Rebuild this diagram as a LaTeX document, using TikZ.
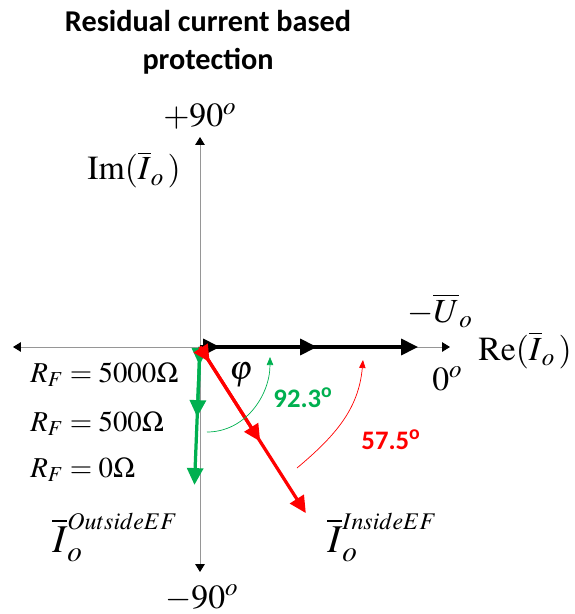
\documentclass[tikz,border=0pt]{standalone}
\usepackage[no-math]{fontspec}
\usepackage{mathptmx}
\newfontfamily\titlefont{Carlito}
\usetikzlibrary{arrows.meta}
\definecolor{vgreen}{RGB}{0,176,80}
\definecolor{vred}{RGB}{255,0,0}
\definecolor{axgray}{RGB}{150,150,150}

\begin{document}
\begin{tikzpicture}[
    >={Triangle[length=4.2mm,width=4mm]},
    axtip/.tip={Triangle[length=2mm,width=2.4mm,color=black]},
    axis/.style={draw=axgray, line width=0.7pt, axtip-axtip},
    vec/.style={line width=2.3pt, ->},
    ang/.style={line width=0.5pt, -{Triangle[length=2mm,width=1.6mm]}},
    big/.style={font=\fontsize{24}{28}\selectfont, inner sep=0pt},
    lab/.style={font=\fontsize{20.5}{24}\selectfont, inner sep=0pt},
    deg/.style={font=\titlefont\bfseries\fontsize{19}{22}\selectfont, inner sep=0pt},
  ]
  \useasboundingbox (-5,-6.675) rectangle (9.375,8.675);

  %% ---------------- title ----------------
  \node[font=\titlefont\bfseries\fontsize{21.5}{27}\selectfont, align=center] (title) at (0.2,7.62)
    {Residual current based\\protection};

  %% ---------------- axes ----------------
  \coordinate (O) at (0,0);
  \coordinate (xl) at (-4.675,0);
  \coordinate (xr) at (6.25,0);
  \coordinate (yt) at (0,5.25);
  \coordinate (yb) at (0,-5.625);
  \draw[axis] (xl) -- (xr);
  \draw[axis] (yb) -- (yt);

  \node[big, anchor=base west] (p90) at (-0.925,5.5) {$+90^o$};
  \node[big, anchor=base west] (m90) at (-0.875,-6.525) {$-90^o$};
  \node[big, anchor=base west] (im) at (-2.825,4.175) {$\mathrm{Im}(\overline{I}_o\,)$};
  \node[big, anchor=base west] (re) at (6.95,-0.325) {$\mathrm{Re}(\overline{I}_o\,)$};
  \node[big, anchor=base west] (zero) at (5.8,-1.075) {$0^o$};
  \node[big, anchor=base west] (uo) at (5.175,0.625) {$-\overline{U}_o$};

  %% ---------------- vectors for the three fault resistances ----------------
  \foreach \r [count=\k] in {0.5,2.925,5.45} { \coordinate (U\k) at (0:\r); }
  \foreach \r [count=\k] in {0.45,1.75,3.45} { \coordinate (G\k) at (-92.3:\r); }
  \foreach \r [count=\k] in {0.45,2.8,4.925} { \coordinate (R\k) at (-57.5:\r); }
  \foreach \k in {3,2,1} {
    \draw[vec, black] (O) -- (U\k);
    \draw[vec, vgreen] (O) -- (G\k);
  }
  \foreach \k in {3,2,1} { \draw[vec, vred] (O) -- (R\k); }

  \node[lab, anchor=base west] (rf1) at (-4.25,-0.875) {$R_F=5000\Omega$};
  \node[lab, anchor=base west] (rf2) at (-4.25,-2.1) {$R_F=500\Omega$};
  \node[lab, anchor=base west] (rf3) at (-4.25,-3.25) {$R_F=0\Omega$};

  \node[anchor=base west, inner sep=0pt, font=\fontsize{28}{30}\selectfont] (iout) at (-3.7,-5.125)
    {$\overline{I}_o^{\mbox{\fontsize{17}{20}\selectfont$OutsideEF$}}$};
  \node[anchor=base west, inner sep=0pt, font=\fontsize{28}{30}\selectfont] (iin) at (3.175,-5.125)
    {$\overline{I}_o^{\mbox{\fontsize{17}{20}\selectfont$InsideEF$}}$};

  %% ---------------- angles ----------------
  \node[big] (phi) at (1.025,-0.7) {$\varphi$};
  \coordinate (ga) at (0.175,-2.125);
  \coordinate (gb) at (1.75,-0.25);
  \draw[ang, vgreen] (ga) to[out=0, in=-90] (gb);
  \node[deg, text=vgreen] (a1) at (2.575,-1.275) {92.3\textsuperscript{o}};
  \coordinate (ra) at (2.425,-3.025);
  \coordinate (rb) at (4.075,-0.325);
  \draw[ang, vred] (ra) to[out=40, in=-95] (rb);
  \node[deg, text=vred] (a2) at (4.775,-2.325) {57.5\textsuperscript{o}};

\end{tikzpicture}
\end{document}
